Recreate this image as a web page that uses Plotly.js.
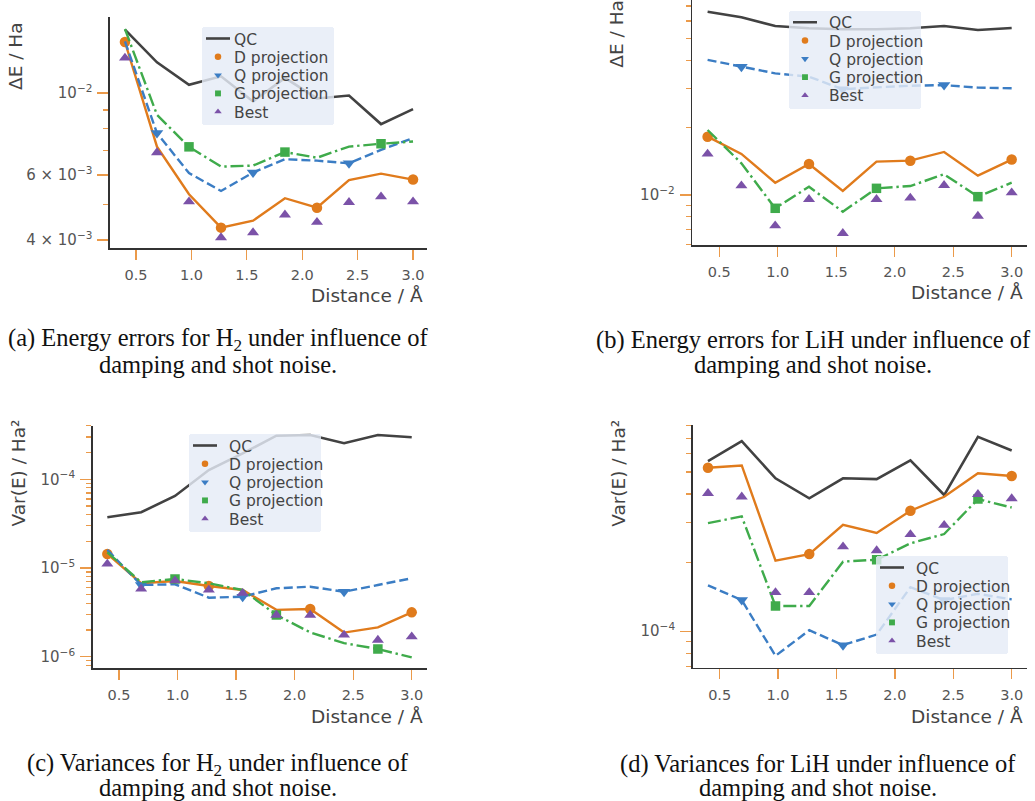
<!DOCTYPE html>
<html>
<head>
<meta charset="utf-8">
<script src="https://cdn.plot.ly/plotly-3.0.1.min.js"></script>
<style>html,body{margin:0;padding:0;background:#fff;}#chart{width:1035px;height:801px;}</style>
</head>
<body>
<div id="chart"></div>
<script>
// ---------------- data ----------------
const distances = [0.4, 0.689, 0.978, 1.267, 1.556, 1.844, 2.133, 2.422, 2.711, 3.0];
const seriesNames = ["QC", "D projection", "Q projection", "G projection", "Best"];

// (a) energy errors H2
const h2EnergyQC   = [0.01485, 0.01211, 0.01053, 0.01110, 0.00949, 0.01099, 0.00967, 0.00985, 0.00824, 0.00905];
const h2EnergyD    = [0.01375, 0.00716, 0.00532, 0.00432, 0.00451, 0.00519, 0.00489, 0.00581, 0.00605, 0.00583];
const h2EnergyQ    = [0.01380, 0.00779, 0.00607, 0.00543, 0.00609, 0.00662, 0.00656, 0.00645, 0.00702, 0.00755];
const h2EnergyG    = [0.01491, 0.00873, 0.00715, 0.00632, 0.00636, 0.00692, 0.00668, 0.00716, 0.00729, 0.00739];
const h2EnergyBest = [0.01245, 0.00690, 0.00508, 0.00406, 0.00419, 0.00468, 0.00447, 0.00506, 0.00524, 0.00508];

// (b) energy errors LiH
const lihEnergyQC   = [0.0660, 0.0623, 0.0570, 0.0557, 0.0551, 0.0551, 0.0557, 0.0570, 0.0547, 0.0558];
const lihEnergyD    = [0.01823, 0.01526, 0.01135, 0.01376, 0.01042, 0.01410, 0.01424, 0.01558, 0.01220, 0.01440];
const lihEnergyQ    = [0.0402, 0.0375, 0.0350, 0.0338, 0.0297, 0.0303, 0.0308, 0.0310, 0.0302, 0.0300];
const lihEnergyG    = [0.01953, 0.01386, 0.00872, 0.01089, 0.00842, 0.01071, 0.01097, 0.01238, 0.00983, 0.01135];
const lihEnergyBest = [0.01526, 0.01100, 0.00729, 0.00957, 0.00674, 0.00957, 0.00970, 0.01105, 0.00805, 0.01024];

// (c) variances H2
const h2VarQC   = [3.73e-5, 4.25e-5, 6.48e-5, 1.27e-4, 1.96e-4, 3.10e-4, 3.15e-4, 2.55e-4, 3.15e-4, 2.98e-4];
const h2VarD    = [1.44e-5, 6.73e-6, 7.14e-6, 6.26e-6, 5.65e-6, 3.37e-6, 3.45e-6, 1.87e-6, 2.14e-6, 3.16e-6];
const h2VarQ    = [1.60e-5, 6.43e-6, 6.55e-6, 4.62e-6, 4.75e-6, 5.90e-6, 6.15e-6, 5.40e-6, 6.43e-6, 7.66e-6];
const h2VarG    = [1.50e-5, 6.90e-6, 7.52e-6, 6.73e-6, 5.65e-6, 2.95e-6, 1.88e-6, 1.42e-6, 1.22e-6, 9.8e-7];
const h2VarBest = [1.11e-5, 5.80e-6, 7.19e-6, 5.65e-6, 5.19e-6, 2.95e-6, 2.95e-6, 1.76e-6, 1.54e-6, 1.68e-6];

// (d) variances LiH
const lihVarQC   = [5.58e-4, 6.82e-4, 4.69e-4, 3.83e-4, 4.69e-4, 4.65e-4, 5.62e-4, 3.96e-4, 7.13e-4, 6.21e-4];
const lihVarD    = [5.22e-4, 5.34e-4, 2.04e-4, 2.18e-4, 2.93e-4, 2.70e-4, 3.38e-4, 3.89e-4, 4.93e-4, 4.80e-4];
const lihVarQ    = [1.59e-4, 1.37e-4, 7.80e-5, 1.01e-4, 8.69e-5, 9.67e-5, 1.56e-4, 1.37e-4, 1.46e-4, 1.38e-4];
const lihVarG    = [2.98e-4, 3.19e-4, 1.29e-4, 1.29e-4, 2.02e-4, 2.06e-4, 2.43e-4, 2.67e-4, 3.80e-4, 3.49e-4];
const lihVarBest = [4.03e-4, 3.89e-4, 1.48e-4, 1.48e-4, 2.35e-4, 2.26e-4, 2.66e-4, 2.92e-4, 3.99e-4, 3.82e-4];

// tick values / labels
const xTickVals = [0.5, 1.0, 1.5, 2.0, 2.5, 3.0];
const xTickText = ["0.5", "1.0", "1.5", "2.0", "2.5", "3.0"];
const aTickVals = [0.004, 0.006, 0.01];
const aTickText = ["4 × 10<sup>−3</sup>", "6 × 10<sup>−3</sup>", "10<sup>−2</sup>"];
const aMinorVals = [0.005, 0.007, 0.008, 0.009];
const bTickVals = [0.01];
const bTickText = ["10<sup>−2</sup>"];
const bMinorVals = [0.006, 0.007, 0.008, 0.009, 0.02, 0.03, 0.04, 0.05, 0.06, 0.07];
const cTickVals = [1e-6, 1e-5, 1e-4];
const cTickText = ["10<sup>−6</sup>", "10<sup>−5</sup>", "10<sup>−4</sup>"];
const cMinorVals = [8e-7, 9e-7, 2e-6, 3e-6, 4e-6, 5e-6, 6e-6, 7e-6, 8e-6, 9e-6, 2e-5, 3e-5, 4e-5, 5e-5, 6e-5, 7e-5, 8e-5, 9e-5, 2e-4, 3e-4, 4e-4];
const dTickVals = [1e-4];
const dTickText = ["10<sup>−4</sup>"];
const dMinorVals = [7e-5, 8e-5, 9e-5, 2e-4, 3e-4, 4e-4, 5e-4, 6e-4, 7e-4, 8e-4];

const xTitle = "Distance / Å";
const yTitleEnergy = "ΔE / Ha";
const yTitleVar = "Var(E) / Ha²";
const captions = [
  ["(a) Energy errors for H<sub>2</sub> under influence of", "damping and shot noise."],
  ["(b) Energy errors for LiH under influence of", "damping and shot noise."],
  ["(c) Variances for H<sub>2</sub> under influence of", "damping and shot noise."],
  ["(d) Variances for LiH under influence of", "damping and shot noise."]
];

// ---------------- styling ----------------
const W = 1035, H = 801;
const colQC = "#424242", colD = "#e07b1c", colQ = "#3b7dc4", colG = "#3fab4b", colBest = "#7b52a8";
const tickCol = "#eb9a4a";
const lw = 2.4;

const panels = [
  {data:[h2EnergyQC,h2EnergyD,h2EnergyQ,h2EnergyG,h2EnergyBest], px:[110,427], py:[17,248],
   xr:[0.265,3.126], yr:[-2.4197,-1.794], tv:aTickVals, tt:aTickText, mv:aMinorVals,
   leg:[202,27], ytitle:yTitleEnergy, yt:[16,20], xt:[425,295]},
  {data:[lihEnergyQC,lihEnergyD,lihEnergyQ,lihEnergyG,lihEnergyBest], px:[692.3,1027], py:[0,245],
   xr:[0.2692,3.131], yr:[-2.2236,-1.128], tv:bTickVals, tt:bTickText, mv:bMinorVals,
   leg:[789,10.7], ytitle:yTitleEnergy, yt:[616.7,-2], xt:[1025,292]},
  {data:[h2VarQC,h2VarD,h2VarQ,h2VarG,h2VarBest], px:[92.7,426.7], py:[425.7,668.3],
   xr:[0.275,3.128], yr:[-6.131,-3.396], tv:cTickVals, tt:cTickText, mv:cMinorVals,
   leg:[189,434], ytitle:yTitleVar, yt:[18,418], xt:[425,716.7]},
  {data:[lihVarQC,lihVarD,lihVarQ,lihVarG,lihVarBest], px:[692.7,1027], py:[425,667.7],
   xr:[0.2692,3.131], yr:[-4.160,-3.095], tv:dTickVals, tt:dTickText, mv:dMinorVals,
   leg:[876,556], ytitle:yTitleVar, yt:[618.3,418], xt:[1025,716.7]}
];
const captionPos = [[218,340,364],[813,340,364],[218,764,787],[818,764,787]];

const pick = (arr, offset) => arr.map((v,i)=> (i%3===offset ? v : null));
const pickX = (offset) => distances.map((v,i)=> (i%3===offset ? v : null));

const traces = [];
const layout = {
  width: W, height: H, margin:{l:0,r:0,t:0,b:0},
  paper_bgcolor:"#ffffff", plot_bgcolor:"rgba(0,0,0,0)",
  font:{family:"DejaVu Sans", color:"#555555"},
  showlegend:true, annotations:[]
};
const fx = p => p/W, fy = p => 1 - p/H;

panels.forEach((p, k) => {
  const n = k===0 ? "" : String(k+1);
  const xa = "x"+n, ya = "y"+n, lg = "legend"+n;
  const [qc, d, q, g, best] = p.data;
  const base = {xaxis:xa, yaxis:ya, legend:lg, hoverinfo:"skip"};
  traces.push(Object.assign({}, base, {x:distances, y:qc, mode:"lines", name:seriesNames[0],
    line:{color:colQC, width:2.6}}));
  traces.push(Object.assign({}, base, {x:distances, y:d, mode:"lines", showlegend:false,
    line:{color:colD, width:lw}}));
  traces.push(Object.assign({}, base, {x:pickX(0), y:pick(d,0), mode:"markers", name:seriesNames[1],
    marker:{color:colD, size:10.5, symbol:"circle"}}));
  traces.push(Object.assign({}, base, {x:distances, y:q, mode:"lines", showlegend:false,
    line:{color:colQ, width:lw, dash:"9px,4px"}}));
  traces.push(Object.assign({}, base, {x:pickX(1), y:pick(q,1), mode:"markers", name:seriesNames[2],
    marker:{color:colQ, size:11, symbol:"triangle-down"}}));
  traces.push(Object.assign({}, base, {x:distances, y:g, mode:"lines", showlegend:false,
    line:{color:colG, width:lw, dash:"13px,3.8px,2.4px,3.8px"}}));
  traces.push(Object.assign({}, base, {x:pickX(2), y:pick(g,2), mode:"markers", name:seriesNames[3],
    marker:{color:colG, size:9.5, symbol:"square"}}));
  traces.push(Object.assign({}, base, {x:distances, y:best, mode:"markers", name:seriesNames[4],
    marker:{color:colBest, size:10.5, symbol:"triangle-up"}}));

  layout["xaxis"+n] = {
    domain:[fx(p.px[0]), fx(p.px[1])], range:p.xr, anchor:ya,
    showgrid:false, zeroline:false, showline:true, linecolor:"#333333", linewidth:1.6,
    tickmode:"array", tickvals:xTickVals, ticktext:xTickText,
    ticks:"outside", ticklen:10, tickwidth:1.3, tickcolor:tickCol,
    ticklabelstandoff:3, tickfont:{family:"DejaVu Sans", size:14.5, color:"#555555"}
  };
  layout["yaxis"+n] = {
    domain:[fy(p.py[1]), fy(p.py[0])], type:"log", range:p.yr, anchor:xa,
    showgrid:false, zeroline:false, showline:true, linecolor:"#333333", linewidth:1.6,
    tickmode:"array", tickvals:p.tv, ticktext:p.tt,
    ticks:"outside", ticklen:11, tickwidth:1.3, tickcolor:tickCol,
    ticklabelstandoff:2, tickfont:{family:"DejaVu Sans", size:15, color:"#555555"},
    minor:{tickmode:"array", tickvals:p.mv, ticks:"outside", ticklen:5, tickwidth:1.1, tickcolor:tickCol, showgrid:false}
  };
  layout[lg] = {
    x:fx(p.leg[0]), y:fy(p.leg[1]), xanchor:"left", yanchor:"top",
    bgcolor:"rgba(229,236,246,0.82)", borderwidth:0,
    font:{family:"DejaVu Sans", size:15.5, color:"#444444"},
    tracegroupgap:0, itemwidth:30
  };
  layout.annotations.push({
    xref:"paper", yref:"paper", x:fx(p.yt[0]), y:fy(p.yt[1]), xanchor:"center", yanchor:"top",
    text:p.ytitle, textangle:-90, showarrow:false,
    font:{family:"DejaVu Sans", size:18.5, color:"#444444"}
  });
  layout.annotations.push({
    xref:"paper", yref:"paper", x:fx(p.xt[0]), y:fy(p.xt[1]), xanchor:"right", yanchor:"middle",
    text:xTitle, showarrow:false,
    font:{family:"DejaVu Sans", size:18.5, color:"#444444"}
  });
  const cp = captionPos[k];
  captions[k].forEach((line, j) => {
    layout.annotations.push({
      xref:"paper", yref:"paper", x:fx(cp[0]), y:fy(cp[1+j]), xanchor:"center", yanchor:"middle",
      text:line, showarrow:false,
      font:{family:"Liberation Serif", size:24.5, color:"#111111"}
    });
  });
});

// compact legend rows (matplotlib-like spacing) after Plotly has drawn them
function compactLegends(){
  const step = 18.3, firstY = 11.5, bottomPad = 13.5;
  const legends = Array.from(document.querySelectorAll("g")).filter(g => {
    const c = (g.getAttribute("class") || "").trim();
    return /^legend\d*$/.test(c);
  });
  legends.forEach(leg => {
    const items = Array.from(leg.querySelectorAll("g.traces"));
    if (!items.length) return;
    items.forEach((el, i) => {
      const m = /translate\(\s*([-\d.]+)[ ,]+([-\d.]+)\s*\)/.exec(el.getAttribute("transform") || "");
      const tx = m ? parseFloat(m[1]) : 0;
      el.setAttribute("transform", "translate(" + tx + "," + (firstY + i*step) + ")");
      const t = el.querySelector("text.legendtext");
      if (t) t.setAttribute("x", 32);
      el.querySelectorAll("path.js-line").forEach(pth => pth.setAttribute("d", "M4,0h24"));
      el.querySelectorAll("path.scatterpts").forEach(pth => pth.setAttribute("transform", "translate(16,0) scale(0.62)"));
    });
    const bg = leg.querySelector("rect.bg");
    if (bg) {
      bg.setAttribute("height", firstY + (items.length-1)*step + bottomPad);
      bg.setAttribute("width", Math.max(0, parseFloat(bg.getAttribute("width")) - 8));
      bg.setAttribute("rx", 3); bg.setAttribute("ry", 3);
    }
  });
}

Plotly.newPlot("chart", traces, layout, {displayModeBar:false, staticPlot:true}).then(compactLegends);
</script>
</body>
</html>
